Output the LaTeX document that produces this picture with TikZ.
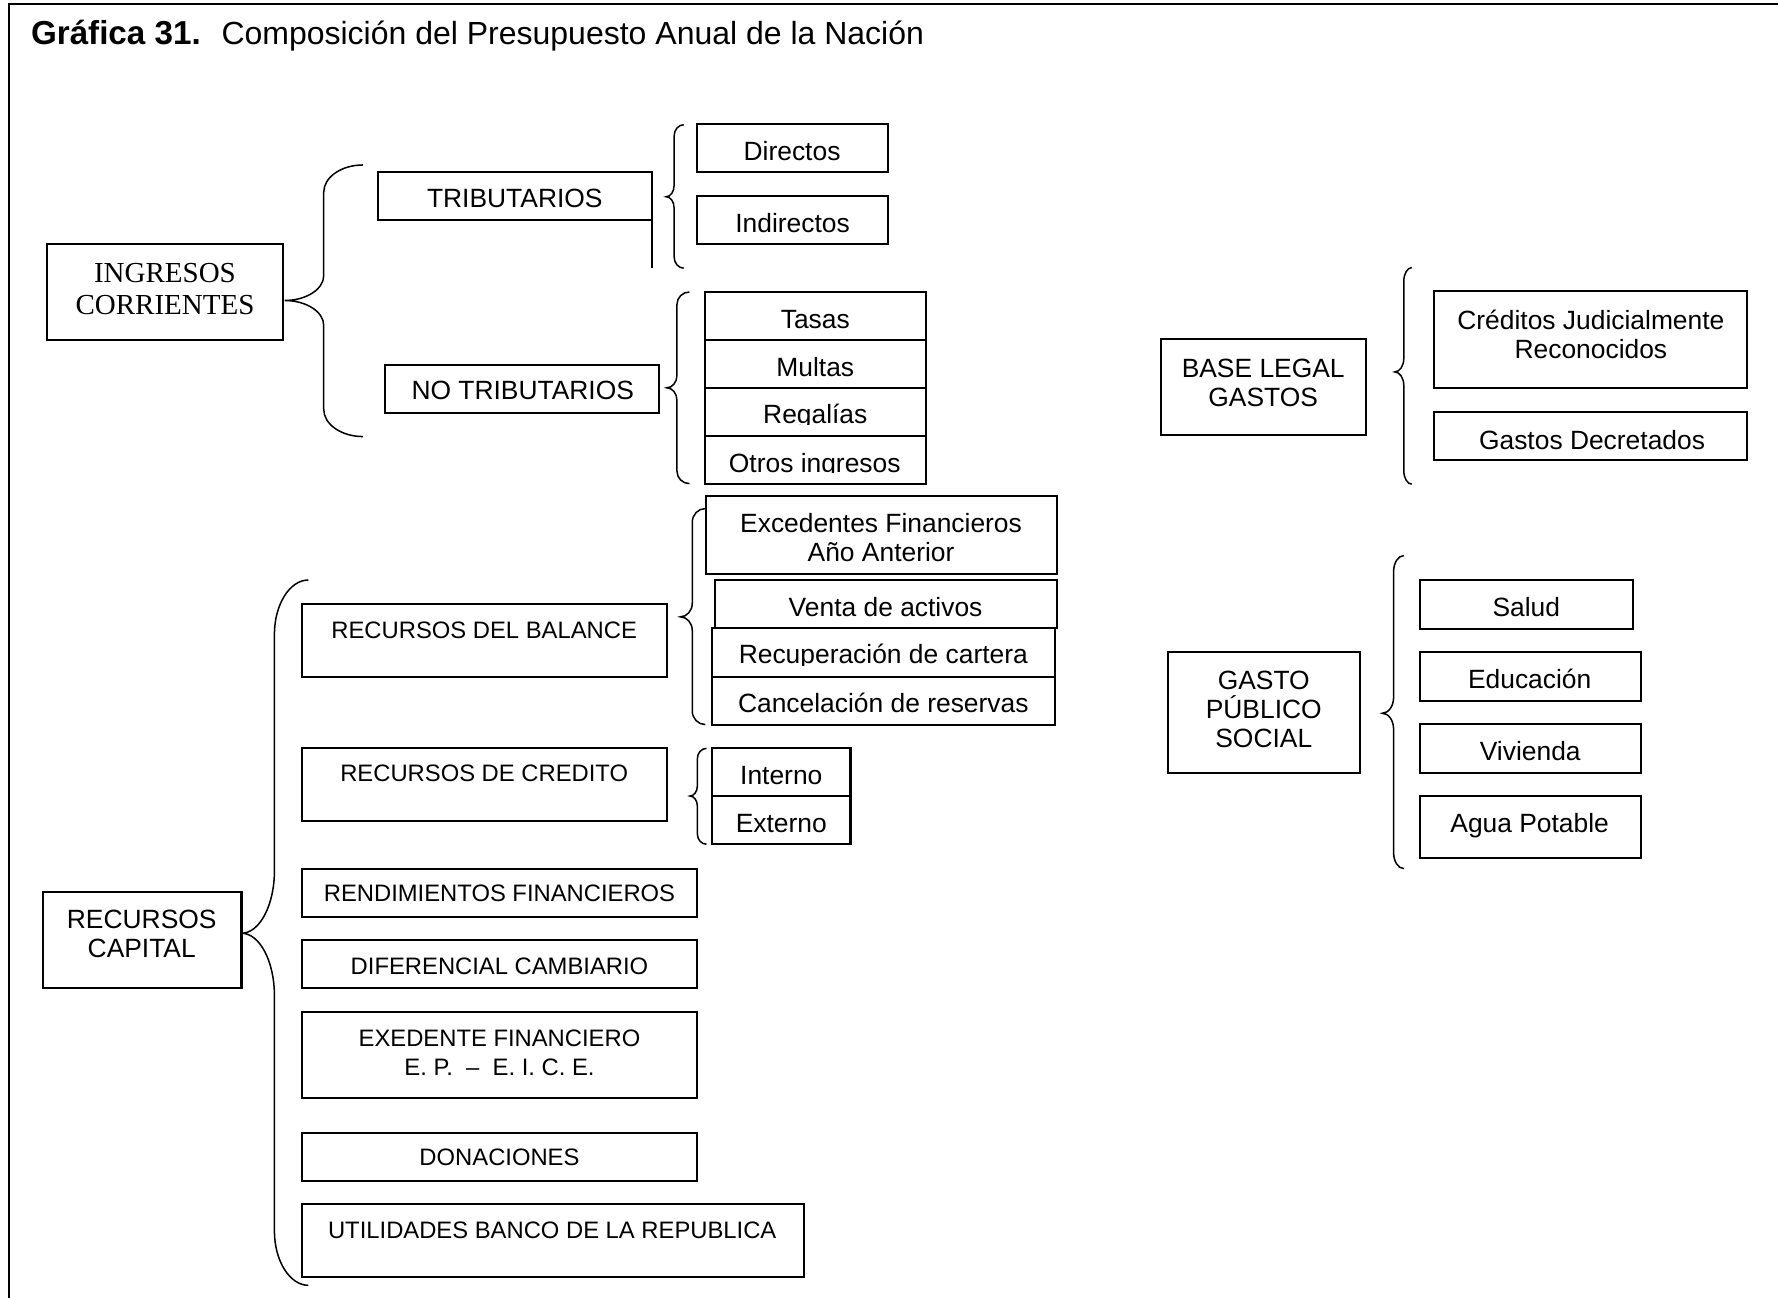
\documentclass[tikz,border=0pt]{standalone}
\usepackage{fontspec}
\setmainfont{Liberation Sans}
\newfontfamily\tnr{Liberation Serif}
\newcommand\fmain{\fontsize{13.2pt}{14.5pt}\selectfont}
\newcommand\fsmall{\fontsize{11.9pt}{14.4pt}\selectfont}
\newcommand\ftitle{\fontsize{16pt}{19pt}\selectfont}
\newcommand\ftitleb{\fontsize{16.6pt}{19pt}\selectfont\bfseries}
\newcommand\fserif{\tnr\fontsize{14.5pt}{15.9pt}\selectfont}

\tikzset{
  bx/.style={draw, line width=1.05pt, inner sep=0pt, outer sep=0pt, anchor=north west},
  lab/.style={inner sep=0pt, outer sep=0pt, align=center, font=\fmain},
  one/.style={text height=9.45pt, text depth=0pt},
  sm/.style={font=\fsmall, text height=8.52pt, text depth=0pt},
  smm/.style={font=\fsmall},
  brc/.style={line width=0.75pt},
}

% rectangle node: name, left, top, right, bottom
\newcommand\rbox[5]{%
  \node[bx, minimum width={(#4-#2)*0.567pt}, minimum height={(#5-#3)*0.567pt}] (#1) at (#2,#3) {};}

% left curly brace: x of ends, top y, bottom y, x of stem, x of tip, y of tip, end bend, tip bend
\newcommand\curlyb[8]{%
  \draw[brc] (#1,#2) .. controls ({#4+0.45*(#1-#4)},#2) and (#4,{#2+0.45*#7}) .. (#4,{#2+#7})
    -- (#4,{#6-#8}) .. controls (#4,{#6-0.45*#8}) and ({#5+0.55*(#4-#5)},#6) .. (#5,#6)
    .. controls ({#5+0.55*(#4-#5)},#6) and (#4,{#6+0.45*#8}) .. (#4,{#6+#8})
    -- (#4,{#3-#7}) .. controls (#4,{#3-0.45*#7}) and ({#4+0.45*(#1-#4)},#3) .. (#1,#3);}

\begin{document}
\begin{tikzpicture}[x=0.567pt, y=-0.567pt]
\useasboundingbox (0,0) rectangle (1568,1144.7);

% outer frame (open at right and bottom)
\draw[line width=1.15pt] (1568,3.8) -- (8,3.8) -- (8,1144.7);

% title
\node[anchor=base west, inner sep=0pt, font=\ftitleb] (ttl-a) at (27,39) {Gráfica 31.};
\node[anchor=base west, inner sep=0pt, font=\ftitle] (ttl-b) at (195,39) {Composición del Presupuesto Anual de la Nación};

% ---------------- ingresos corrientes ----------------
\rbox{ing}{41.5}{215}{249.5}{300}
\node[lab, font=\fserif] (ing-t) at (145.5,255) {INGRESOS\\CORRIENTES};
\curlyb{320}{145.5}{385}{285.5}{251}{265}{24}{22}

\rbox{trib}{333}{151.5}{575}{194}
\node[lab,one] (trib-t) at (454,175) {TRIBUTARIOS};
\draw[line width=1.05pt] (trib.south east) -- +(0,42);
\rbox{notrib}{339.5}{322}{581.5}{364}
\node[lab,one] (notrib-t) at (461,344) {NO TRIBUTARIOS};

\curlyb{603}{110}{236.5}{594.5}{587.5}{173.5}{10}{10}
\rbox{dir}{615}{109.5}{783}{151.7}
\node[lab,one] (dir-t) at (698.5,133) {Directos};
\rbox{ind}{615}{173}{783}{215}
\node[lab,one] (ind-t) at (699,196.4) {Indirectos};

\curlyb{608}{257.5}{426.5}{597}{588}{342}{11}{11}
\rbox{tas}{621.5}{257.6}{816.5}{300}
\node[lab,one] (tas-t) at (719,281.5) {Tasas};
\rbox{mul}{621.5}{300}{816.5}{342}
\node[lab,one] (mul-t) at (719,323.4) {Multas};
\rbox{reg}{621.5}{342}{816.5}{384.5}
\begin{scope}
  \clip (reg.north west) rectangle ([yshift=5.67pt]reg.south east);
  \node[lab,one] (reg-t) at (719,365.4) {Regalías};
\end{scope}
\rbox{otr}{621.5}{384.5}{816.5}{427}
\begin{scope}
  \clip (otr.north west) rectangle ([yshift=5.67pt]otr.south east);
  \node[lab,one] (otr-t) at (718.5,408) {Otros ingresos};
\end{scope}

% ---------------- recursos de capital ----------------
\rbox{cap}{38}{787}{213}{871.5}
\node[lab] (cap-t) at (125,823.8) {RECURSOS\\CAPITAL};
\curlyb{272}{511.5}{1133.5}{242}{213}{823}{48}{55}

\rbox{bal}{266}{533}{588}{597}
\node[lab,sm] (bal-t) at (427,555.6) {RECURSOS DEL BALANCE};
\curlyb{622}{448.5}{639}{610.5}{600}{544}{12}{12}
\rbox{exc}{623}{437.5}{932}{506}
\node[lab] (exc-t) at (777,474) {Excedentes Financieros\\Año Anterior};
\rbox{ven}{630.5}{511.5}{932}{554}
\node[lab,one] (ven-t) at (781,535) {Venta de activos};
\rbox{rec}{628}{554}{930}{597}
\begin{scope}
  \clip (rec.north west) rectangle ([yshift=5.67pt]rec.south east);
  \node[lab,one] (rec-t) at (779,577) {Recuperación de cartera};
\end{scope}
\rbox{can}{628}{597}{930}{639}
\node[lab,one] (can-t) at (779,620) {Cancelación de reservas};

\rbox{cre}{266}{660}{588}{724}
\node[lab,sm] (cre-t) at (427,682) {RECURSOS DE CREDITO};
\curlyb{623}{660}{744.5}{615}{608.5}{702}{9}{9}
\rbox{int}{628}{660}{750}{702}
\node[lab,one] (int-t) at (689,683.5) {Interno};
\rbox{ext}{628}{702}{750}{744.5}
\node[lab,one] (ext-t) at (689,725.6) {Externo};

\rbox{ren}{266}{766}{615}{808.5}
\node[lab,sm] (ren-t) at (440.5,787.6) {RENDIMIENTOS FINANCIEROS};
\rbox{dif}{266}{829}{615}{871.5}
\node[lab,sm] (dif-t) at (440.5,852) {DIFERENCIAL CAMBIARIO};
\rbox{exd}{266}{892.5}{615}{968.5}
\node[lab,smm] (exd-t) at (440.5,928.3) {EXEDENTE FINANCIERO\\E. P.\ \ –\ \ E. I. C. E.};
\rbox{don}{266}{999}{615}{1041.5}
\node[lab,sm] (don-t) at (440.5,1020.6) {DONACIONES};
\rbox{uti}{266}{1062}{709}{1126}
\node[lab,sm] (uti-t) at (487,1085) {UTILIDADES BANCO DE LA REPUBLICA};

% ---------------- base legal de gastos ----------------
\rbox{bas}{1023.5}{299}{1205}{383.7}
\node[lab] (bas-t) at (1114,337.3) {BASE LEGAL\\GASTOS};
\curlyb{1245}{236}{427}{1238}{1230}{328}{12}{12}
\rbox{crj}{1265}{257}{1541}{342}
\node[lab] (crj-t) at (1403,294.7) {Créditos Judicialmente\\Reconocidos};
\rbox{gde}{1265}{363.5}{1541}{405.7}
\node[lab,one] (gde-t) at (1404,388) {Gastos Decretados};

% ---------------- gasto publico social ----------------
\rbox{gps}{1030}{575}{1199}{681.5}
\node[lab] (gps-t) at (1114.5,625.5) {GASTO\\PÚBLICO\\SOCIAL};
\curlyb{1238}{490}{766}{1229}{1219}{629}{14}{14}
\rbox{sal}{1252}{511.5}{1440}{554.7}
\node[lab,one] (sal-t) at (1346,535) {Salud};
\rbox{edu}{1252}{575}{1447}{618}
\node[lab,one] (edu-t) at (1349,599) {Educación};
\rbox{viv}{1252}{638.5}{1447}{681.5}
\node[lab,one] (viv-t) at (1349.5,662) {Vivienda};
\rbox{agu}{1252}{701.7}{1447}{757}
\node[lab,one] (agu-t) at (1349,726) {Agua Potable};
\end{tikzpicture}
\end{document}
